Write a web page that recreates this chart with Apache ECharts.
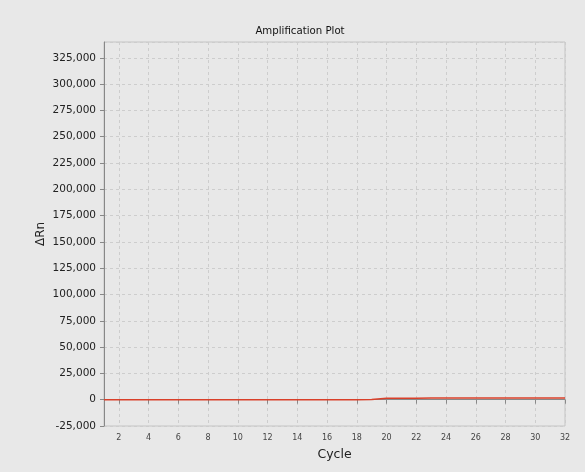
<!DOCTYPE html>
<html><head><meta charset="utf-8">
<script src="https://cdn.jsdelivr.net/npm/echarts@6/dist/echarts.min.js"></script>
<style>html,body{margin:0;padding:0;background:#e8e8e8;}#c{width:585px;height:472px;}</style>
</head><body><div id="c"></div>
<script>
const cycles = [1,2,3,4,5,6,7,8,9,10,11,12,13,14,15,16,17,18,19,20,21,22,23,24,25,26,27,28,29,30,31,32];
const deltaRn = [0,0,0,0,0,0,0,0,0,0,0,0,0,0,0,0,0,0,100,1300,1400,1400,1500,1500,1500,1500,1500,1500,1500,1500,1500,1500];
const yMin = -25000, yMax = 340000, yStep = 25000;

const chart = echarts.init(document.getElementById('c'));
const evenOnly = (i, v) => Number(v) % 2 === 0;
chart.setOption({
  backgroundColor: '#e8e8e8',
  animation: false,
  title: { text: 'Amplification Plot', left: 295, textAlign: 'center', top: 21,
    textStyle: { fontFamily: 'DejaVu Sans', fontSize: 10.2, fontWeight: 'normal', color: '#111' } },
  grid: { left: 104, right: 20, top: 42, bottom: 46, show: true, backgroundColor: '#e8e8e8', borderColor: '#c4c4c4', borderWidth: 1 },
  xAxis: {
    type: 'category', data: cycles, boundaryGap: false,
    name: 'Cycle', nameLocation: 'middle', nameGap: 22, nameMoveOverlap: false,
    nameTextStyle: { fontFamily: 'DejaVu Sans', fontSize: 12.5, color: '#222' },
    axisLine: { lineStyle: { color: '#888' } },
    axisTick: { interval: evenOnly, length: 4, lineStyle: { color: '#888' } },
    axisLabel: { interval: evenOnly, fontFamily: 'DejaVu Sans', fontSize: 8, color: '#444', margin: 8 },
    splitLine: { show: true, interval: evenOnly, lineStyle: { color: '#cdcdcd', type: [3, 3] } }
  },
  yAxis: {
    type: 'value', min: yMin, max: yMax, interval: yStep,
    name: 'ΔRn', nameLocation: 'middle', nameGap: 57, nameRotate: 90, nameMoveOverlap: false,
    nameTextStyle: { fontFamily: 'DejaVu Sans', fontSize: 12, color: '#222' },
    axisLine: { show: true, lineStyle: { color: '#888' } },
    axisTick: { show: true, length: 4, lineStyle: { color: '#888' } },
    axisLabel: { fontFamily: 'DejaVu Sans', fontSize: 10.5, color: '#222', margin: 8,
      formatter: v => v.toLocaleString('en-US'), showMaxLabel: false },
    splitLine: { show: true, lineStyle: { color: '#cdcdcd', type: [3, 3] } }
  },
  series: [{
    type: 'line', data: deltaRn, symbol: 'none',
    lineStyle: { color: '#d9402a', width: 1.5 }
  }]
});
</script></body></html>
